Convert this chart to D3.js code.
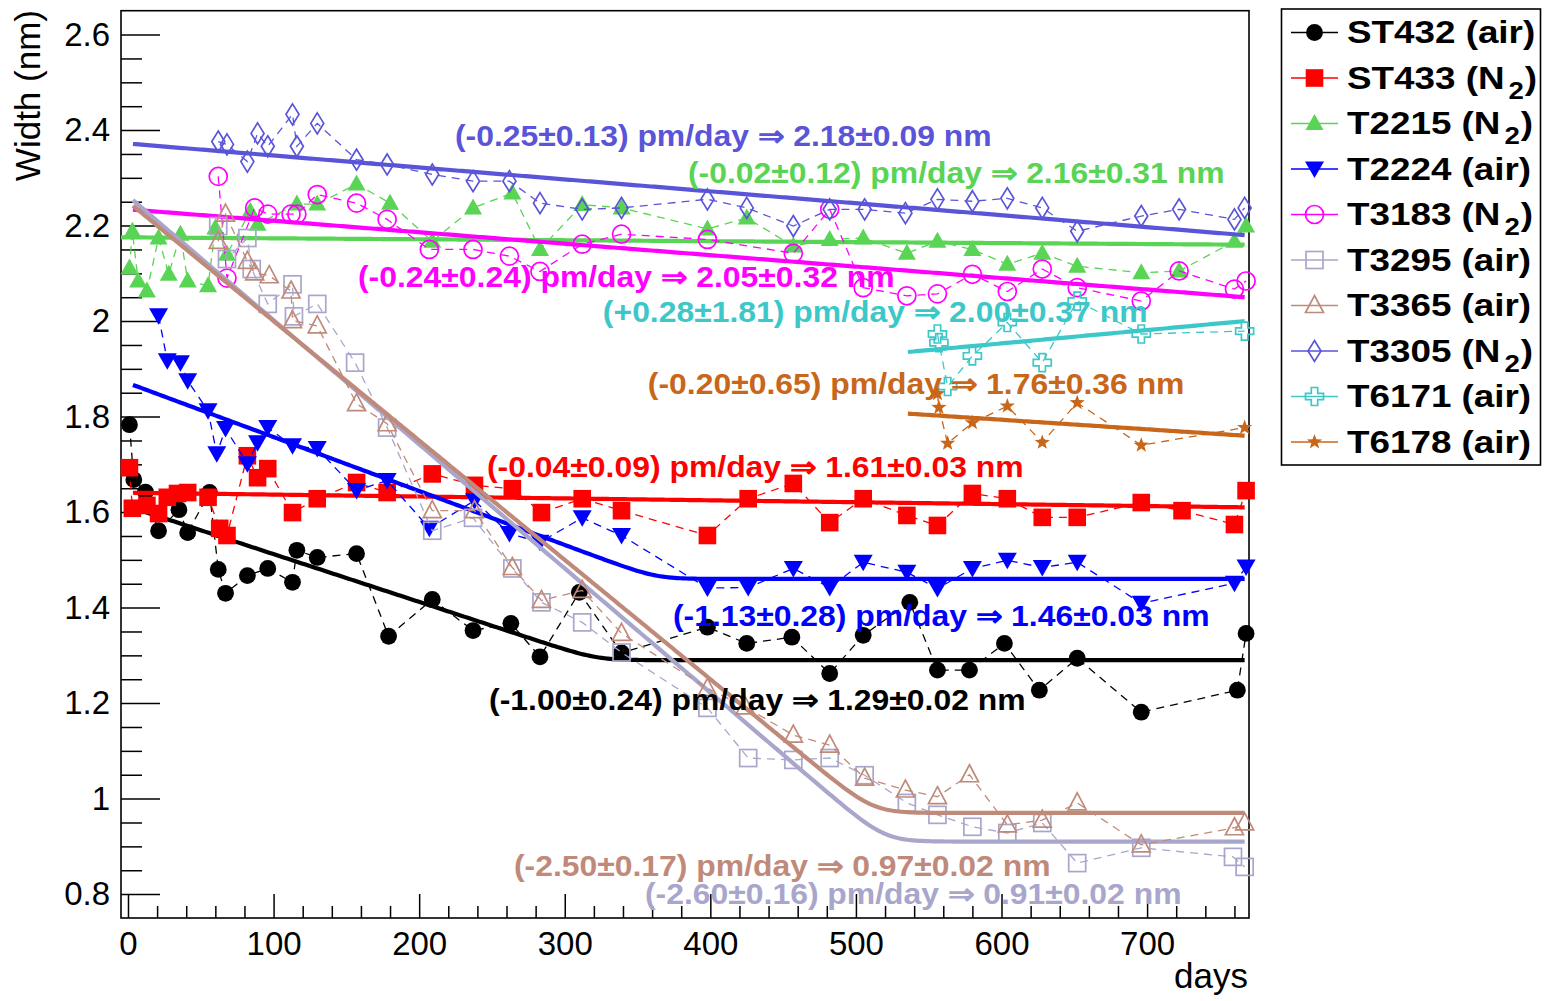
<!DOCTYPE html>
<html>
<head>
<meta charset="utf-8">
<script src="https://cdn.jsdelivr.net/npm/d3@7"></script>
<style>
  body { margin: 0; background: #fff; }
  svg { display: block; }
  text { font-family: "Liberation Sans", Arial, Helvetica, sans-serif; }
</style>
</head>
<body>
<svg id="chart" width="1547" height="1001"></svg>
<script>
// ---- samples ----
const seriesNames = ["ST432", "ST433", "T2215", "T2224", "T3183", "T3295", "T3365", "T3305", "T6171", "T6178"];
const seriesGas   = ["air", "N2", "N2", "air", "N2", "air", "air", "N2", "air", "air"];

// ---- measured widths (nm) versus time (days) ----
const daysST432  = [1, 4, 12, 21, 35, 41, 56, 62, 67, 82, 96, 113, 116, 130, 157, 179, 209, 237, 263, 283, 310, 339, 398, 425, 456, 482, 505, 537, 556, 578, 602, 626, 652, 696, 762, 768];
const widthST432 = [1.783, 1.668, 1.642, 1.561, 1.605, 1.557, 1.641, 1.48, 1.43, 1.467, 1.482, 1.453, 1.52, 1.505, 1.513, 1.340, 1.417, 1.352, 1.367, 1.297, 1.432, 1.305, 1.359, 1.325, 1.338, 1.262, 1.342, 1.411, 1.269, 1.269, 1.325, 1.227, 1.294, 1.181, 1.227, 1.346];

const daysST433  = [1, 3, 13, 21, 27, 34, 41, 55, 63, 68, 82, 89, 96, 113, 130, 157, 178, 209, 238, 264, 284, 312, 339, 398, 426, 457, 482, 505, 535, 556, 580, 604, 628, 652, 696, 724, 760, 768];
const widthST433 = [1.693, 1.608, 1.614, 1.597, 1.631, 1.639, 1.641, 1.631, 1.566, 1.551, 1.718, 1.672, 1.691, 1.599, 1.628, 1.662, 1.641, 1.680, 1.656, 1.649, 1.599, 1.628, 1.603, 1.551, 1.628, 1.660, 1.578, 1.628, 1.593, 1.572, 1.639, 1.628, 1.589, 1.589, 1.620, 1.603, 1.574, 1.645];

const daysT2215  = [1, 3, 7, 13, 21, 28, 36, 41, 55, 60, 68, 84, 89, 116, 130, 157, 180, 209, 237, 264, 283, 312, 339, 398, 425, 457, 482, 505, 535, 556, 580, 604, 628, 652, 696, 722, 760, 768];
const widthT2215 = [2.111, 2.188, 2.084, 2.063, 2.174, 2.098, 2.182, 2.084, 2.074, 2.195, 2.140, 2.230, 2.203, 2.245, 2.245, 2.287, 2.247, 2.167, 2.237, 2.268, 2.150, 2.244, 2.237, 2.193, 2.216, 2.157, 2.171, 2.174, 2.142, 2.167, 2.150, 2.119, 2.142, 2.115, 2.101, 2.105, 2.167, 2.199];

const daysT2224  = [21, 27, 36, 41, 55, 61, 67, 82, 89, 96, 113, 130, 157, 178, 207, 238, 262, 283, 312, 339, 398, 426, 457, 482, 505, 535, 556, 580, 604, 628, 652, 696, 760, 768];
const widthT2224 = [2.011, 1.917, 1.913, 1.875, 1.812, 1.722, 1.775, 1.701, 1.745, 1.777, 1.739, 1.733, 1.645, 1.666, 1.566, 1.624, 1.555, 1.537, 1.588, 1.551, 1.441, 1.442, 1.482, 1.442, 1.495, 1.474, 1.440, 1.482, 1.499, 1.484, 1.495, 1.409, 1.451, 1.485];

const daysT3183  = [62, 68, 87, 96, 112, 116, 130, 157, 178, 207, 237, 262, 283, 312, 339, 398, 457, 482, 505, 535, 556, 580, 604, 628, 652, 696, 722, 760, 768];
const widthT3183 = [2.303, 2.090, 2.237, 2.224, 2.224, 2.224, 2.265, 2.247, 2.213, 2.150, 2.150, 2.136, 2.104, 2.161, 2.182, 2.171, 2.142, 2.234, 2.070, 2.053, 2.057, 2.098, 2.062, 2.109, 2.070, 2.042, 2.105, 2.067, 2.084];

const daysT3295  = [62, 68, 82, 85, 96, 113, 114, 130, 156, 178, 209, 237, 264, 284, 312, 339, 398, 426, 457, 482, 506, 535, 556, 580, 604, 628, 652, 696, 759, 767];
const widthT3295 = [2.199, 2.130, 2.174, 2.109, 2.036, 2.077, 2.010, 2.036, 1.913, 1.777, 1.561, 1.588, 1.482, 1.411, 1.369, 1.306, 1.190, 1.085, 1.081, 1.085, 1.049, 0.991, 0.966, 0.941, 0.928, 0.949, 0.865, 0.897, 0.878, 0.857];

const daysT3365  = [62, 67, 82, 87, 97, 112, 113, 130, 157, 178, 209, 238, 264, 284, 312, 339, 398, 424, 457, 482, 506, 534, 556, 578, 604, 628, 652, 696, 760, 767];
const widthT3365 = [2.167, 2.224, 2.125, 2.101, 2.095, 2.063, 2.001, 1.990, 1.827, 1.785, 1.603, 1.603, 1.484, 1.415, 1.436, 1.346, 1.231, 1.192, 1.133, 1.112, 1.043, 1.018, 1.004, 1.050, 0.945, 0.955, 0.991, 0.903, 0.939, 0.949];

const daysT3305  = [62, 68, 82, 89, 96, 113, 116, 130, 157, 178, 209, 237, 262, 283, 312, 339, 398, 425, 457, 482, 506, 534, 556, 580, 604, 628, 652, 696, 722, 760, 767];
const widthT3305 = [2.376, 2.370, 2.334, 2.393, 2.366, 2.433, 2.366, 2.414, 2.338, 2.328, 2.307, 2.293, 2.293, 2.247, 2.234, 2.237, 2.255, 2.237, 2.199, 2.234, 2.234, 2.226, 2.255, 2.251, 2.257, 2.237, 2.188, 2.220, 2.234, 2.213, 2.237];

const daysT6171  = [556, 557, 563, 580, 604, 628, 652, 696, 767];
const widthT6171 = [1.973, 1.955, 1.863, 1.927, 1.997, 1.913, 2.042, 1.973, 1.979];

const daysT6178  = [556, 557, 563, 580, 604, 628, 652, 696, 767];
const widthT6178 = [1.848, 1.819, 1.744, 1.787, 1.822, 1.746, 1.829, 1.740, 1.777];

const seriesDays   = [daysST432, daysST433, daysT2215, daysT2224, daysT3183, daysT3295, daysT3365, daysT3305, daysT6171, daysT6178];
const seriesWidths = [widthST432, widthST433, widthT2215, widthT2224, widthT3183, widthT3295, widthT3365, widthT3305, widthT6171, widthT6178];

// ---- fit results: slope (pm/day) and width reached at the last day (nm) ----
const fitSlopes     = [-1.00, -0.04, -0.02, -1.13, -0.24, -2.60, -2.50, -0.25, 0.28, -0.20];
const fitSlopeErrs  = [0.24, 0.09, 0.12, 0.28, 0.24, 0.16, 0.17, 0.13, 1.81, 0.65];
const fitFinal      = [1.29, 1.61, 2.16, 1.46, 2.05, 0.91, 0.97, 2.18, 2.00, 1.76];
const fitFinalErrs  = [0.02, 0.03, 0.31, 0.03, 0.32, 0.02, 0.02, 0.09, 0.37, 0.36];
const fitKneeDays   = [322, null, null, 363, null, 520, 512, null, null, null]; // end of the linear drop
const fitStartDays  = [3.4, 3.4, -4.8, 3.4, 3.4, 3.4, 3.4, 3.4, 535.7, 535.7];
const fitStopDay    = 767;

// ---- axis ticks ----
const xTickValues = [0, 100, 200, 300, 400, 500, 600, 700];
const xTickLabels = ["0", "100", "200", "300", "400", "500", "600", "700"];
const yTickValues = [0.8, 1.0, 1.2, 1.4, 1.6, 1.8, 2.0, 2.2, 2.4, 2.6];
const yTickLabels = ["0.8", "1", "1.2", "1.4", "1.6", "1.8", "2", "2.2", "2.4", "2.6"];

// ---- styling ----
const seriesColors  = ["#000000", "#ff0000", "#59d454", "#0000ff", "#ff00ff", "#a9a6cc", "#c08a7a", "#5954d8", "#3cc8c8", "#c8661a"];
const seriesMarkers = ["dot", "square", "triUp", "triDown", "openCircle", "openSquare", "openTri", "openDiamond", "openCross", "star"];
// fit-label anchors, in (day, width) units
const labelDays   = [248, 246.6, 384.6, 374.3, 158, 355.1, 265.1, 224.6, 326.2, 357.1];
const labelWidths = [1.185, 1.673, 2.289, 1.362, 2.071, 0.779, 0.837, 2.366, 1.998, 1.848];

const W = 1547, H = 1001;
const svg = d3.select("#chart");

const x = d3.scaleLinear().domain([-4.8, 770]).range([121, 1249]);
const y = d3.scaleLinear().domain([0.75, 2.65]).range([918, 10.7]);

const FONT = '"Liberation Sans", Arial, Helvetica, sans-serif';

// frame
svg.append("rect")
  .attr("x", x.range()[0]).attr("y", y.range()[1])
  .attr("width", x.range()[1] - x.range()[0])
  .attr("height", y.range()[0] - y.range()[1])
  .attr("fill", "none").attr("stroke", "#000").attr("stroke-width", 1.6);

// y axis: ticks point into the frame
const yMinor = d3.range(0.75, 2.651, 0.05).map(v => +v.toFixed(2))
  .filter(v => v > 0.76 && v < 2.64 && !yTickValues.some(t => Math.abs(t - v) < 1e-6));
const yAxisMinor = svg.append("g").attr("transform", `translate(${x.range()[0]},0)`)
  .call(d3.axisLeft(y).tickValues(yMinor).tickSizeInner(-21).tickSizeOuter(0).tickFormat(""));
const yAxis = svg.append("g").attr("transform", `translate(${x.range()[0]},0)`)
  .call(d3.axisLeft(y).tickValues(yTickValues).tickSizeInner(-39).tickSizeOuter(0).tickPadding(11)
    .tickFormat((d, i) => yTickLabels[i]));

// x axis
const xMinor = d3.range(0, 770, 20).filter(v => !xTickValues.includes(v));
const xAxisMinor = svg.append("g").attr("transform", `translate(0,${y.range()[0]})`)
  .call(d3.axisBottom(x).tickValues(xMinor).tickSizeInner(-12).tickSizeOuter(0).tickFormat(""));
const xAxis = svg.append("g").attr("transform", `translate(0,${y.range()[0]})`)
  .call(d3.axisBottom(x).tickValues(xTickValues).tickSizeInner(-24).tickSizeOuter(0).tickPadding(14)
    .tickFormat((d, i) => xTickLabels[i]));

[yAxisMinor, yAxis, xAxisMinor, xAxis].forEach(g => {
  g.select(".domain").remove();
  g.selectAll(".tick line").attr("stroke", "#000").attr("stroke-width", 1.5);
  g.selectAll("text").attr("font-family", FONT).attr("font-size", 33).attr("fill", "#000");
});

// axis titles
svg.append("text")
  .attr("transform", "translate(40,10) rotate(-90)")
  .attr("text-anchor", "end")
  .attr("font-size", 35)
  .text("Width (nm)");
svg.append("text")
  .attr("x", 1248).attr("y", 988)
  .attr("text-anchor", "end")
  .attr("font-size", 35)
  .text("days");

// marker shapes
function markerPath(kind) {
  switch (kind) {
    case "triUp":   return "M0,-9.5L9,6.5L-9,6.5Z";
    case "triDown": return "M0,9L-9.5,-7.5L9.5,-7.5Z";
    case "openTri": return "M0,-10L9,7L-9,7Z";
    case "openDiamond": return "M0,-10.5L6.5,0L0,10.5L-6.5,0Z";
    case "openCross": {
      const a = 3.2, L = 9;
      return `M${-a},${-L}H${a}V${-a}H${L}V${a}H${a}V${L}H${-a}V${a}H${-L}V${-a}H${-a}Z`;
    }
    case "star": {
      const pts = [];
      for (let k = 0; k < 10; k++) {
        const r = k % 2 === 0 ? 8 : 3.3;
        const ang = -Math.PI / 2 + k * Math.PI / 5;
        pts.push([r * Math.cos(ang), r * Math.sin(ang)]);
      }
      return "M" + pts.map(p => p[0].toFixed(2) + "," + p[1].toFixed(2)).join("L") + "Z";
    }
  }
  return null;
}

function drawMarker(g, kind, color, cx, cy) {
  const filled = !kind.startsWith("open");
  let el;
  if (kind === "dot") {
    el = g.append("circle").attr("cx", cx).attr("cy", cy).attr("r", 8.4);
  } else if (kind === "openCircle") {
    el = g.append("circle").attr("cx", cx).attr("cy", cy).attr("r", 9);
  } else if (kind === "square") {
    el = g.append("rect").attr("x", cx - 8.8).attr("y", cy - 8.8).attr("width", 17.6).attr("height", 17.6);
  } else if (kind === "openSquare") {
    el = g.append("rect").attr("x", cx - 8.5).attr("y", cy - 8.5).attr("width", 17).attr("height", 17);
  } else {
    el = g.append("path").attr("d", markerPath(kind)).attr("transform", `translate(${cx},${cy})`);
  }
  if (filled) el.attr("fill", color).attr("stroke", "none");
  else el.attr("fill", "none").attr("stroke", color).attr("stroke-width", 1.7);
}

// fitted curve: linear with optional plateau after the knee (smoothed corner)
function fitValue(i, t) {
  const s = fitSlopes[i] / 1000; // nm/day
  if (fitKneeDays[i] == null) return fitFinal[i] + s * (t - fitStopDay);
  const w = 9;
  const z = (fitKneeDays[i] - t) / w;
  const sp = z > 30 ? z : Math.log1p(Math.exp(z));
  return fitFinal[i] - s * w * sp;
}

const lineGen = d3.line().x(d => x(d[0])).y(d => y(d[1]));

seriesNames.forEach((name, i) => {
  const g = svg.append("g").attr("class", "series");
  const pts = seriesDays[i].map((d, k) => [d, seriesWidths[i][k]]);
  // dashed connection of successive measurements
  g.append("path").datum(pts)
    .attr("d", lineGen)
    .attr("fill", "none").attr("stroke", seriesColors[i])
    .attr("stroke-width", 1.3).attr("stroke-dasharray", "8,6");
  pts.forEach(p => drawMarker(g, seriesMarkers[i], seriesColors[i], x(p[0]), y(p[1])));
  // fit curve
  const ts = d3.range(fitStartDays[i], fitStopDay, 2).concat([fitStopDay]);
  g.append("path").datum(ts.map(t => [t, fitValue(i, t)]))
    .attr("d", lineGen)
    .attr("fill", "none").attr("stroke", seriesColors[i])
    .attr("stroke-width", 4.2).attr("stroke-linejoin", "round");
});

// fit labels
function fmtSigned(v) { return (v < 0 ? "-" : "+") + Math.abs(v).toFixed(2); }
const STRETCH = 1.1;
seriesNames.forEach((name, i) => {
  const label = `(${fmtSigned(fitSlopes[i])}\u00b1${fitSlopeErrs[i].toFixed(2)}) pm/day \u21d2 ${fitFinal[i].toFixed(2)}\u00b1${fitFinalErrs[i].toFixed(2)} nm`;
  const t = svg.append("text")
    .attr("x", x(labelDays[i])).attr("y", y(labelWidths[i]))
    .attr("font-size", 29).attr("font-weight", "bold")
    .attr("fill", seriesColors[i])
    .text(label);
  const natural = t.node().getComputedTextLength();
  t.attr("textLength", natural * STRETCH).attr("lengthAdjust", "spacingAndGlyphs");
});

// legend
const legend = svg.append("g");
legend.append("rect")
  .attr("x", 1281.5).attr("y", 9).attr("width", 259).attr("height", 456)
  .attr("fill", "#fff").attr("stroke", "#000").attr("stroke-width", 1.6);
const LEG_STRETCH = 1.15;
seriesNames.forEach((name, i) => {
  const cy = 32.5 + i * 45.5;
  legend.append("line")
    .attr("x1", 1291).attr("x2", 1338).attr("y1", cy).attr("y2", cy)
    .attr("stroke", seriesColors[i]).attr("stroke-width", 1.5);
  drawMarker(legend, seriesMarkers[i], seriesColors[i], 1314.5, cy);
  const base = cy + 10.5;
  const isN2 = seriesGas[i] === "N2";
  const main = legend.append("text")
    .attr("x", 1347).attr("y", base)
    .attr("font-size", 32).attr("font-weight", "bold").attr("fill", "#000")
    .text(isN2 ? `${name} (N` : `${name} (${seriesGas[i]})`);
  const nat = main.node().getComputedTextLength();
  main.attr("textLength", nat * LEG_STRETCH).attr("lengthAdjust", "spacingAndGlyphs");
  if (isN2) {
    const xEnd = 1347 + nat * LEG_STRETCH;
    const sub = legend.append("text")
      .attr("x", xEnd + 4).attr("y", base + 10)
      .attr("font-size", 24).attr("font-weight", "bold").attr("fill", "#000")
      .text("2");
    const subW = sub.node().getComputedTextLength();
    sub.attr("textLength", subW * LEG_STRETCH).attr("lengthAdjust", "spacingAndGlyphs");
    const close = legend.append("text")
      .attr("x", xEnd + 4 + subW * LEG_STRETCH + 1).attr("y", base)
      .attr("font-size", 32).attr("font-weight", "bold").attr("fill", "#000")
      .text(")");
    const cW = close.node().getComputedTextLength();
    close.attr("textLength", cW * LEG_STRETCH).attr("lengthAdjust", "spacingAndGlyphs");
  }
});
</script>
</body>
</html>
